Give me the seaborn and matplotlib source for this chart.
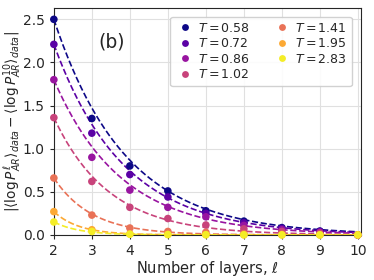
import numpy as np
import pandas as pd
import matplotlib
matplotlib.use("Agg")
import matplotlib.pyplot as plt
import seaborn as sns

# layers and temperatures
layers = [2, 3, 4, 5, 6, 7, 8, 9, 10]
temps = ["0.58", "0.72", "0.86", "1.02", "1.41", "1.95", "2.83"]

# |<log P^l>_data - <log P^10>_data|
d058 = [2.50, 1.35, 0.80, 0.51, 0.28, 0.16, 0.085, 0.045, 0.0]
d072 = [2.21, 1.18, 0.70, 0.44, 0.25, 0.14, 0.075, 0.04, 0.0]
d086 = [1.80, 0.90, 0.52, 0.32, 0.21, 0.11, 0.06, 0.03, 0.0]
d102 = [1.36, 0.62, 0.32, 0.19, 0.115, 0.07, 0.04, 0.02, 0.0]
d141 = [0.66, 0.23, 0.08, 0.04, 0.03, 0.015, 0.008, 0.004, 0.0]
d195 = [0.27, 0.06, 0.012, 0.006, 0.004, 0.002, 0.001, 0.0, 0.0]
d283 = [0.15, 0.04, 0.008, 0.004, 0.002, 0.001, 0.0, 0.0, 0.0]

# exponential fit params (amplitude at l=2, decay rate)
fit_amp = [2.50, 2.21, 1.80, 1.36, 0.66, 0.27, 0.15]
fit_rate = [0.53, 0.545, 0.565, 0.69, 1.0, 1.5, 1.5]

series = [d058, d072, d086, d102, d141, d195, d283]
rows = []
for t, vals in zip(temps, series):
    for l, v in zip(layers, vals):
        rows.append({"layer": l, "diff": v, "T": f"$T = {t}$"})
df = pd.DataFrame(rows)

lgrid = np.linspace(2, 10, 200)
fit_rows = []
for t, a, b in zip(temps, fit_amp, fit_rate):
    for l in lgrid:
        fit_rows.append({"layer": l, "diff": a * np.exp(-b * (l - 2)), "T": f"$T = {t}$"})
fit_df = pd.DataFrame(fit_rows)

sns.set_style("ticks")
plt.rcParams["font.family"] = ["DejaVu Sans"]
pal = [matplotlib.colors.to_hex(c) for c in plt.cm.plasma(np.linspace(0, 0.97, 7))]

fig, ax = plt.subplots(figsize=(3.74, 2.8), dpi=100)
fig.subplots_adjust(left=0.144, right=0.965, bottom=0.161, top=0.971)

sns.lineplot(data=fit_df, x="layer", y="diff", hue="T", palette=pal,
             linestyle="--", linewidth=1.2, legend=False, ax=ax)
sns.scatterplot(data=df, x="layer", y="diff", hue="T", palette=pal,
                s=30, edgecolor="none", ax=ax, zorder=3, clip_on=False)

ax.grid(True, color="0.88", linewidth=0.8)
ax.set_axisbelow(True)
ax.set_xlim(2, 10.08)
ax.set_ylim(0, 2.63)
ax.set_xticks(range(2, 11))
ax.set_yticks([0, 0.5, 1.0, 1.5, 2.0, 2.5])
ax.tick_params(labelsize=10, length=3)
for s in ax.spines.values():
    s.set_color("0.15")
ax.set_xlabel(r"Number of layers, $\ell$", fontsize=10.5, labelpad=1)
ax.set_ylabel(r"$|\langle \log P^{\ell}_{AR}\rangle_{data} - \langle \log P^{10}_{AR}\rangle_{data}|$",
              fontsize=9.8, labelpad=0)
ax.text(3.16, 2.24, "(b)", fontsize=13.5, va="center")

ax.legend(ncol=2, loc="upper right", fontsize=9, handletextpad=0.2,
          columnspacing=1.8, borderpad=0.4, labelspacing=0.2,
          handlelength=1.6, markerscale=0.9, framealpha=0.9,
          bbox_to_anchor=(0.99, 0.99))

fig.savefig("out.png", dpi=100)
